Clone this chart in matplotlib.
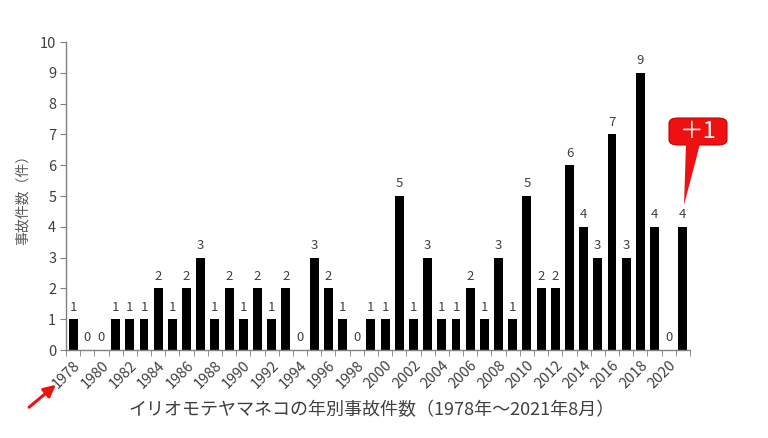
import matplotlib
matplotlib.use("Agg")
import matplotlib.pyplot as plt
from matplotlib.patches import FancyBboxPatch, Polygon
import numpy as np

plt.rcParams['font.family'] = ['Noto Sans CJK JP', 'DejaVu Sans']

years = list(range(1978, 2022))
counts = [1, 0, 0, 1, 1, 1, 2, 1, 2, 3, 1, 2, 1, 2, 1, 2, 0, 3, 2, 1, 0, 1,
          1, 5, 1, 3, 1, 1, 2, 1, 3, 1, 5, 2, 2, 6, 4, 3, 7, 3, 9, 4, 0, 4]
tick_years = years[::2]

W, H = 768, 438
fig = plt.figure(figsize=(W / 100, H / 100), dpi=100)
ax = fig.add_axes([66 / W, 1 - 350 / H, (690 - 66) / W, (350 - 42) / H])

x = np.arange(len(years))
ax.bar(x, counts, width=0.63, color='black')
for xi, c in zip(x, counts):
    ax.text(xi, c + 0.18, str(c), ha='center', va='bottom',
            fontsize=9.5, color='#404040')

ax.set_xlim(-0.5, len(years) - 0.5)
ax.set_ylim(0, 10)
ax.set_yticks(range(0, 11))
ax.tick_params(axis='y', labelsize=10.5, colors='#404040', length=4,
               direction='out', pad=3)
ax.set_xticks([years.index(y) for y in tick_years])
ax.set_xticklabels([str(y) for y in tick_years], rotation=45, ha='right',
                   va='top', rotation_mode='anchor', fontsize=10.5,
                   color='#404040')
ax.tick_params(axis='x', length=0, pad=6)
ax.set_xticks(np.arange(-0.5, len(years)), minor=True)
ax.tick_params(axis='x', which='minor', length=4, direction='out',
               color='#808080')
ax.tick_params(axis='y', color='#808080')

for s in ['top', 'right']:
    ax.spines[s].set_visible(False)
for s in ['left', 'bottom']:
    ax.spines[s].set_color('#808080')
    ax.spines[s].set_linewidth(1.0)

ax.set_ylabel('事故件数（件）', fontsize=10, color='#595959', labelpad=7)
fig.text(372 / W, 1 - 410 / H, 'イリオモテヤマネコの年別事故件数（1978年〜2021年8月）',
         ha='center', va='center', fontsize=13, color='#404040')

# red arrow pointing to 1978
ax.annotate('', xy=(58 / W, 1 - 383 / H), xytext=(27 / W, 1 - 409 / H),
            xycoords='figure fraction', textcoords='figure fraction',
            arrowprops=dict(arrowstyle='-|>,head_length=0.7,head_width=0.35',
                            color='#e8140e', lw=2.2))

# "+1" callout
box = FancyBboxPatch((669 / W, 1 - 145 / H), 58 / W, 27 / H,
                     boxstyle='round,pad=0,rounding_size=0.012',
                     transform=fig.transFigure, facecolor='#ee1111',
                     edgecolor='#cc0000', lw=0.8, zorder=5)
fig.patches.append(box)
tail = Polygon([(686 / W, 1 - 144 / H), (700 / W, 1 - 144 / H),
                (684 / W, 1 - 205 / H)], closed=True,
               transform=fig.transFigure, facecolor='#ee1111',
               edgecolor='none', zorder=5)
fig.patches.append(tail)
fig.text(698 / W, 1 - 131 / H, '＋1', ha='center', va='center',
         fontsize=17, color='white', zorder=6)

fig.savefig('out.png', dpi=100)
